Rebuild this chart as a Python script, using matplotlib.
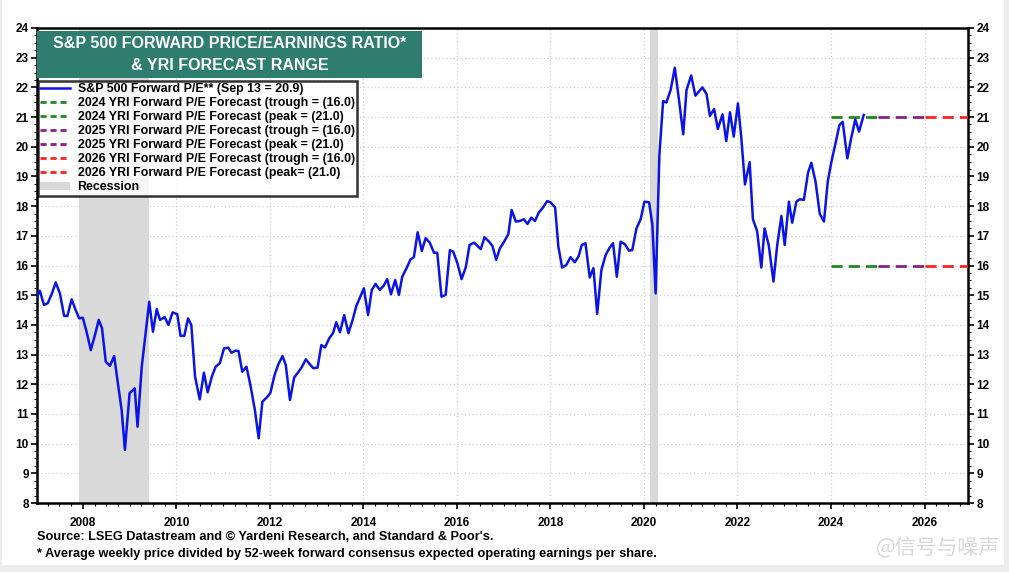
import matplotlib
matplotlib.use("Agg")
import matplotlib.pyplot as plt
from matplotlib.lines import Line2D
from matplotlib.patches import Patch, Rectangle
from matplotlib.ticker import MultipleLocator, FixedLocator
from matplotlib import font_manager

# ---------------- data ----------------
dates = [
    2007.00, 2007.08, 2007.17, 2007.25, 2007.34, 2007.42, 2007.51, 2007.60, 2007.67, 2007.76,
    2007.84, 2007.92, 2008.00, 2008.08, 2008.17, 2008.26, 2008.34, 2008.41, 2008.49, 2008.58,
    2008.67, 2008.74, 2008.83, 2008.90, 2009.00, 2009.11, 2009.17, 2009.26, 2009.35, 2009.42,
    2009.50, 2009.58, 2009.65, 2009.75, 2009.83, 2009.92, 2010.02, 2010.09, 2010.17, 2010.25,
    2010.32, 2010.40, 2010.50, 2010.59, 2010.67, 2010.76, 2010.84, 2010.93, 2011.02, 2011.11,
    2011.18, 2011.26, 2011.33, 2011.41, 2011.50, 2011.59, 2011.68, 2011.76, 2011.84, 2011.93,
    2012.01, 2012.10, 2012.18, 2012.27, 2012.34, 2012.43, 2012.52, 2012.60, 2012.68, 2012.77,
    2012.85, 2012.93, 2013.02, 2013.10, 2013.18, 2013.27, 2013.35, 2013.42, 2013.50, 2013.59,
    2013.68, 2013.77, 2013.85, 2013.94, 2014.01, 2014.10, 2014.18, 2014.26, 2014.35, 2014.43,
    2014.51, 2014.59, 2014.68, 2014.76, 2014.83, 2014.92, 2015.01, 2015.08, 2015.16, 2015.25,
    2015.33, 2015.42, 2015.51, 2015.58, 2015.67, 2015.76, 2015.85, 2015.92, 2016.01, 2016.10,
    2016.19, 2016.27, 2016.37, 2016.51, 2016.59, 2016.69, 2016.76, 2016.84, 2016.92, 2017.01,
    2017.10, 2017.17, 2017.26, 2017.35, 2017.43, 2017.51, 2017.59, 2017.67, 2017.75, 2017.84,
    2017.93, 2018.00, 2018.10, 2018.17, 2018.25, 2018.34, 2018.43, 2018.52, 2018.60, 2018.67,
    2018.75, 2018.84, 2018.92, 2019.00, 2019.09, 2019.18, 2019.27, 2019.34, 2019.42, 2019.50,
    2019.59, 2019.68, 2019.75, 2019.84, 2019.93, 2020.01, 2020.11, 2020.18, 2020.25, 2020.33,
    2020.41, 2020.48, 2020.57, 2020.66, 2020.75, 2020.84, 2020.91, 2021.01, 2021.10, 2021.25,
    2021.34, 2021.41, 2021.50, 2021.58, 2021.68, 2021.76, 2021.84, 2021.92, 2022.01, 2022.08,
    2022.16, 2022.26, 2022.33, 2022.42, 2022.51, 2022.58, 2022.67, 2022.77, 2022.85, 2022.94,
    2023.01, 2023.10, 2023.17, 2023.26, 2023.33, 2023.42, 2023.51, 2023.58, 2023.67, 2023.76,
    2023.85, 2023.93, 2024.01, 2024.10, 2024.18, 2024.25, 2024.35, 2024.43, 2024.52, 2024.60,
    2024.70,
]
pe = [
    14.90, 15.15, 14.67, 14.73, 15.06, 15.43, 15.06, 14.30, 14.30, 14.86,
    14.53, 14.22, 14.24, 13.77, 13.15, 13.66, 14.17, 13.89, 12.76, 12.62,
    12.95, 12.14, 11.13, 9.79, 11.70, 11.86, 10.57, 12.59, 13.83, 14.78,
    13.77, 14.53, 14.17, 14.26, 14.00, 14.42, 14.36, 13.63, 13.63, 14.22,
    14.00, 12.26, 11.49, 12.39, 11.73, 12.26, 12.59, 12.71, 13.21, 13.23,
    13.06, 13.13, 13.12, 12.42, 12.59, 11.92, 11.13, 10.18, 11.41, 11.55,
    11.70, 12.31, 12.67, 12.95, 12.65, 11.47, 12.23, 12.39, 12.57, 12.84,
    12.68, 12.54, 12.56, 13.32, 13.24, 13.55, 13.72, 14.09, 13.75, 14.33,
    13.72, 14.17, 14.64, 14.97, 15.23, 14.33, 15.18, 15.38, 15.18, 15.31,
    15.54, 15.03, 15.51, 15.01, 15.62, 15.90, 16.21, 16.28, 17.12, 16.49,
    16.92, 16.77, 16.43, 16.43, 14.95, 15.01, 16.52, 16.47, 16.08, 15.54,
    15.94, 16.69, 16.77, 16.55, 16.95, 16.80, 16.66, 16.19, 16.58, 16.80,
    17.06, 17.87, 17.48, 17.50, 17.56, 17.40, 17.61, 17.50, 17.78, 17.95,
    18.17, 18.13, 17.96, 16.63, 15.93, 16.02, 16.28, 16.11, 16.30, 16.69,
    16.75, 15.60, 15.91, 14.37, 15.85, 16.35, 16.61, 16.75, 15.62, 16.80,
    16.72, 16.50, 16.52, 17.25, 17.56, 18.15, 18.13, 17.37, 15.06, 19.72,
    21.54, 21.49, 21.91, 22.66, 21.57, 20.42, 21.91, 22.40, 21.72, 22.00,
    21.77, 21.04, 21.27, 20.60, 21.09, 20.19, 21.16, 20.34, 21.46, 20.34,
    18.73, 19.48, 17.56, 17.16, 15.93, 17.25, 16.67, 15.46, 16.69, 17.67,
    16.69, 18.15, 17.44, 18.15, 18.23, 18.21, 19.13, 19.46, 18.82, 17.74,
    17.48, 18.82, 19.50, 20.14, 20.73, 20.84, 19.61, 20.28, 20.92, 20.51,
    21.07,
]

recessions = [(2007.92, 2009.42), (2020.13, 2020.30)]

forecast_years = [2024, 2025, 2026]
forecast_trough = [16.0, 16.0, 16.0]
forecast_peak = [21.0, 21.0, 21.0]
forecast_colors = ["#1f8a1f", "#8a1f8a", "#ff2020"]

legend_labels = [
    "S&P 500 Forward P/E** (Sep 13 = 20.9)",
    "2024 YRI Forward P/E Forecast (trough = (16.0)",
    "2024 YRI Forward P/E Forecast (peak = (21.0)",
    "2025 YRI Forward P/E Forecast (trough = (16.0)",
    "2025 YRI Forward P/E Forecast (peak = (21.0)",
    "2026 YRI Forward P/E Forecast (trough = (16.0)",
    "2026 YRI Forward P/E Forecast (peak= (21.0)",
    "Recession",
]
x_ticks = [2008, 2010, 2012, 2014, 2016, 2018, 2020, 2022, 2024, 2026]
y_ticks = list(range(8, 25))

title_lines = "S&P 500 FORWARD PRICE/EARNINGS RATIO*\n& YRI FORECAST RANGE"
source_line = "Source: LSEG Datastream and \u00a9 Yardeni Research, and Standard & Poor's."
note_line = "* Average weekly price divided by 52-week forward consensus expected operating earnings per share."
watermark = "@信号与噪声"

# ---------------- fonts ----------------
names = {f.name for f in font_manager.fontManager.ttflist}
base = "Liberation Sans" if "Liberation Sans" in names else "DejaVu Sans"
narrow = "Liberation Sans Narrow" if "Liberation Sans Narrow" in names else base
plt.rcParams["font.family"] = [base, "DejaVu Sans"]

W, H = 1009, 572
fig = plt.figure(figsize=(W / 100, H / 100), dpi=100, facecolor="#ececec")

def fx(px):
    return px / W

def fy(py):
    return 1 - py / H

# white card
fig.patches.append(Rectangle((fx(2), fy(565)), fx(1004) - fx(2), fy(0) - fy(565),
                             transform=fig.transFigure, facecolor="white",
                             edgecolor="none", zorder=-5))

ax = fig.add_axes([fx(37), fy(503), fx(968) - fx(37), fy(28) - fy(503)])
ax.set_facecolor("white")

# recession shading
for a, b in recessions:
    ax.axvspan(a, b, color="#d9d9d9", lw=0, zorder=1)

# grid
ax.set_xlim(2007.02, 2026.93)
ax.set_ylim(8, 24)
for yv in y_ticks[1:-1]:
    ax.axhline(yv, color="#cfcfcf", lw=0.9, ls=(0, (1, 2)), zorder=0.5)
for xv in x_ticks:
    ax.axvline(xv, color="#cfcfcf", lw=0.9, ls=(0, (1, 2)), zorder=0.5)

# forecast ranges
for yr, tr, pk, c in zip(forecast_years, forecast_trough, forecast_peak, forecast_colors):
    for val in (tr, pk):
        ax.plot([yr, yr + 1], [val, val], color=c, lw=2.0, ls=(0, (4, 2.2)), zorder=3,
                dash_capstyle="butt")

# main line
ax.plot(dates, pe, color="#0a14e6", lw=1.8, zorder=4)

# axes styling
for s in ax.spines.values():
    s.set_linewidth(1.8)
    s.set_color("black")
ax.xaxis.set_major_locator(FixedLocator(x_ticks))
ax.xaxis.set_minor_locator(MultipleLocator(0.25))
ax.yaxis.set_major_locator(FixedLocator(y_ticks))
ax.yaxis.set_minor_locator(MultipleLocator(0.25))
ax.tick_params(axis="both", which="major", direction="out", length=4, width=1.2,
               labelsize=8.5, pad=2)
ax.tick_params(axis="both", which="minor", direction="out", length=2, width=0.8)
ax.tick_params(axis="y", which="both", left=True, right=True, labelleft=True, labelright=True)
ax.tick_params(axis="x", which="both", top=False, pad=6)
for t in ax.xaxis.get_major_ticks() + ax.yaxis.get_major_ticks():
    for lab in (t.label1, t.label2):
        lab.set_fontfamily([narrow, "DejaVu Sans"])
        lab.set_fontweight("bold")

# title box
fig.patches.append(Rectangle((fx(37), fy(78)), fx(422) - fx(37), fy(31) - fy(78),
                             transform=fig.transFigure, facecolor="#2e7d6e",
                             edgecolor="none", zorder=5))
fig.text(fx(230), fy(54.5), title_lines, ha="center", va="center", color="white",
         fontsize=11.5, fontweight="bold", linespacing=1.55, zorder=6)

# legend
handles = [Line2D([], [], color="#0a14e6", lw=1.8)]
for c in forecast_colors:
    handles.append(Line2D([], [], color=c, lw=2.0, ls=(0, (2.2, 1.4))))
    handles.append(Line2D([], [], color=c, lw=2.0, ls=(0, (2.2, 1.4))))
handles.append(Patch(facecolor="#d9d9d9", edgecolor="none"))
leg = ax.legend(handles, legend_labels, loc="upper left",
                bbox_to_anchor=(fx(38), fy(81)), bbox_transform=fig.transFigure,
                prop={"weight": "bold", "size": 8.9}, frameon=True,
                fancybox=False, shadow=False, borderaxespad=0, borderpad=0.2,
                labelspacing=0.16, handlelength=2.4, handletextpad=0.6,
                handleheight=0.7)
leg.get_frame().set_edgecolor("black")
leg.get_frame().set_linewidth(1.8)
leg.set_zorder(7)

# footer text
fig.text(fx(37), fy(537), source_line, ha="left", va="center", fontsize=9.2,
         fontweight="bold", family=[narrow, "DejaVu Sans"])
fig.text(fx(37), fy(554), note_line, ha="left", va="center", fontsize=9.2,
         fontweight="bold", family=[narrow, "DejaVu Sans"])
fig.text(fx(1000), fy(548), watermark, ha="right", va="center", fontsize=15,
         color="#d8d8d8", family=["Noto Sans CJK SC", "DejaVu Sans"])

fig.savefig("out.png", dpi=100, facecolor=fig.get_facecolor())
